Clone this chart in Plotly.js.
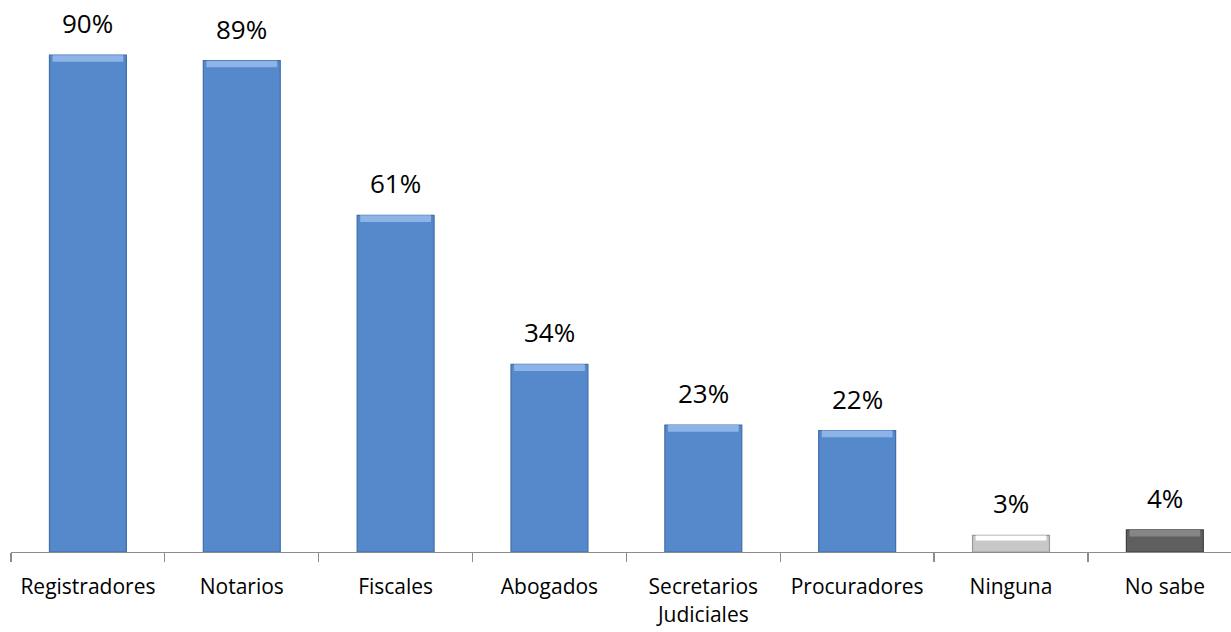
<!DOCTYPE html>
<html><head><meta charset="utf-8">
<script src="https://cdn.plot.ly/plotly-3.0.1.min.js"></script>
<style>html,body{margin:0;padding:0;background:#fff}#c{width:1231px;height:632px}</style>
</head><body><div id="c"></div>
<script>
const categories = ["Registradores","Notarios","Fiscales","Abogados","Secretarios<br>Judiciales","Procuradores","Ninguna","No sabe"];
const values = [90, 89, 61, 34, 23, 22, 3, 4];
const labels = ["90%","89%","61%","34%","23%","22%","3%","4%"];
const fills = ["#5689cb","#5689cb","#5689cb","#5689cb","#5689cb","#5689cb","#c8c8c8","#5f5f5f"];
const edges = ["#3f6ea8","#3f6ea8","#3f6ea8","#3f6ea8","#3f6ea8","#3f6ea8","#9a9a9a","#404040"];
const highlights = ["#8db4e6","#8db4e6","#8db4e6","#8db4e6","#8db4e6","#8db4e6","#ffffff","#858585"];

const bevel = values.map(v => Math.min(1.2, v * 0.3));
const traces = [
  {type:'bar', x:categories, y:values, width:0.5,
   marker:{color:fills, line:{color:edges, width:1.2}}, hoverinfo:'none'},
  {type:'bar', x:categories, y:bevel, base:values.map((v,i)=>v-bevel[i]), width:0.46,
   marker:{color:highlights, line:{width:0}}, hoverinfo:'none'}
];
const layout = {
  width:1231, height:632, barmode:'overlay', showlegend:false,
  margin:{l:11, r:0, t:0, b:80},
  paper_bgcolor:'#fff', plot_bgcolor:'#fff',
  font:{family:'"Open Sans", "Noto Sans", sans-serif', color:'#000'},
  xaxis:{type:'category', range:[-0.5, 7.43], showline:true, linecolor:'#8c8c8c', linewidth:1.2,
         ticks:'outside', ticklen:9, tickcolor:'#8c8c8c', tickwidth:1.2, tickson:'boundaries',
         ticklabelstandoff:16,
         tickfont:{size:21, color:'#000'}, showgrid:false, zeroline:false, fixedrange:true},
  yaxis:{range:[0,100], visible:false, showgrid:false, zeroline:false, fixedrange:true},
  annotations: categories.map((c,i)=>({x:c, y:values[i], text:labels[i], showarrow:false,
     xref:'x', yref:'y', yanchor:'bottom', yshift:12, font:{size:26, color:'#000'}}))
};
Plotly.newPlot('c', traces, layout, {displayModeBar:false, staticPlot:true});
</script></body></html>
